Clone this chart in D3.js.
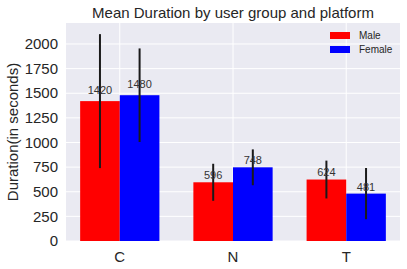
<!DOCTYPE html>
<html>
<head>
<meta charset="utf-8">
<script src="https://cdn.jsdelivr.net/npm/d3@7.9.0/dist/d3.min.js"></script>
<style>
  html, body { margin: 0; padding: 0; background: #fff; }
  svg { display: block; font-family: "Liberation Sans", Arial, sans-serif; }
</style>
</head>
<body>
<div id="chart"></div>
<script>
const categories = ["C", "N", "T"];
const groups = ["Male", "Female"];
const maleMeans = [1420, 596, 624];
const femaleMeans = [1480, 748, 481];
const maleErr = [680, 188, 192];
const femaleErr = [475, 182, 260];
const yTicks = [0, 250, 500, 750, 1000, 1250, 1500, 1750, 2000];
const groupColors = ["#ff0000", "#0000ff"];

const W = 407, H = 269;
const margin = {top: 23, right: 7, bottom: 28, left: 66};
const iw = W - margin.left - margin.right;
const ih = H - margin.top - margin.bottom;

const barW = 0.35;

const svg = d3.select("#chart").append("svg")
  .attr("width", W).attr("height", H);

const g = svg.append("g").attr("transform", `translate(${margin.left},${margin.top})`);

const x = d3.scaleLinear().domain([-0.475, 2.475]).range([0, iw]);
const y = d3.scaleLinear().domain([0, 2213]).range([ih, 0]);

g.append("rect").attr("width", iw).attr("height", ih).attr("fill", "#eaeaf2");

// grid
g.selectAll("line.hgrid").data(yTicks).join("line")
  .attr("x1", 0).attr("x2", iw)
  .attr("y1", d => y(d)).attr("y2", d => y(d))
  .attr("stroke", "#fff").attr("stroke-width", 1);
g.selectAll("line.vgrid").data(categories).join("line")
  .attr("x1", (d, i) => x(i)).attr("x2", (d, i) => x(i))
  .attr("y1", 0).attr("y2", ih)
  .attr("stroke", "#fff").attr("stroke-width", 1);

const series = [
  {name: groups[0], means: maleMeans, err: maleErr, off: -barW, color: groupColors[0]},
  {name: groups[1], means: femaleMeans, err: femaleErr, off: 0, color: groupColors[1]}
];

series.forEach(s => {
  const rows = categories.map((c, i) => ({i, v: s.means[i], e: s.err[i]}));
  g.selectAll(null).data(rows).join("rect")
    .attr("x", d => x(d.i + s.off))
    .attr("width", x(barW) - x(0))
    .attr("y", d => y(d.v))
    .attr("height", d => y(0) - y(d.v))
    .attr("fill", s.color);
});

series.forEach(s => {
  const rows = categories.map((c, i) => ({i, v: s.means[i], e: s.err[i]}));
  g.selectAll(null).data(rows).join("line")
    .attr("x1", d => x(d.i + s.off + barW / 2))
    .attr("x2", d => x(d.i + s.off + barW / 2))
    .attr("y1", d => y(d.v + d.e))
    .attr("y2", d => y(d.v - d.e))
    .attr("stroke", "#1a1a1a").attr("stroke-width", 2);
  g.selectAll(null).data(rows).join("text")
    .attr("x", d => x(d.i + s.off + barW / 2))
    .attr("y", d => y(d.v * 1.05))
    .attr("text-anchor", "middle")
    .attr("font-size", 11)
    .attr("fill", "#333")
    .text(d => d.v);
});

// axes
g.selectAll("text.ytick").data(yTicks).join("text")
  .attr("x", -8).attr("y", d => y(d))
  .attr("dy", "0.35em")
  .attr("text-anchor", "end")
  .attr("font-size", 15)
  .attr("fill", "#262626")
  .text(d => d);

g.selectAll("text.xtick").data(categories).join("text")
  .attr("x", (d, i) => x(i)).attr("y", ih + 21)
  .attr("text-anchor", "middle")
  .attr("font-size", 15)
  .attr("fill", "#262626")
  .text(d => d);

svg.append("text")
  .attr("transform", `translate(18,${margin.top + ih / 2}) rotate(-90)`)
  .attr("text-anchor", "middle")
  .attr("font-size", 15)
  .attr("fill", "#262626")
  .text("Duration(in seconds)");

svg.append("text")
  .attr("x", margin.left + iw / 2).attr("y", 18)
  .attr("text-anchor", "middle")
  .attr("font-size", 15)
  .attr("fill", "#262626")
  .text("Mean Duration by user group and platform");

// legend
const lg = svg.append("g").attr("transform", "translate(330,32)");
groups.forEach((name, i) => {
  lg.append("rect").attr("x", 0).attr("y", i * 14).attr("width", 20).attr("height", 7)
    .attr("fill", groupColors[i]);
  lg.append("text").attr("x", 29).attr("y", i * 14 + 3.5).attr("dy", "0.35em")
    .attr("font-size", 10).attr("fill", "#262626").text(name);
});
</script>
</body>
</html>
